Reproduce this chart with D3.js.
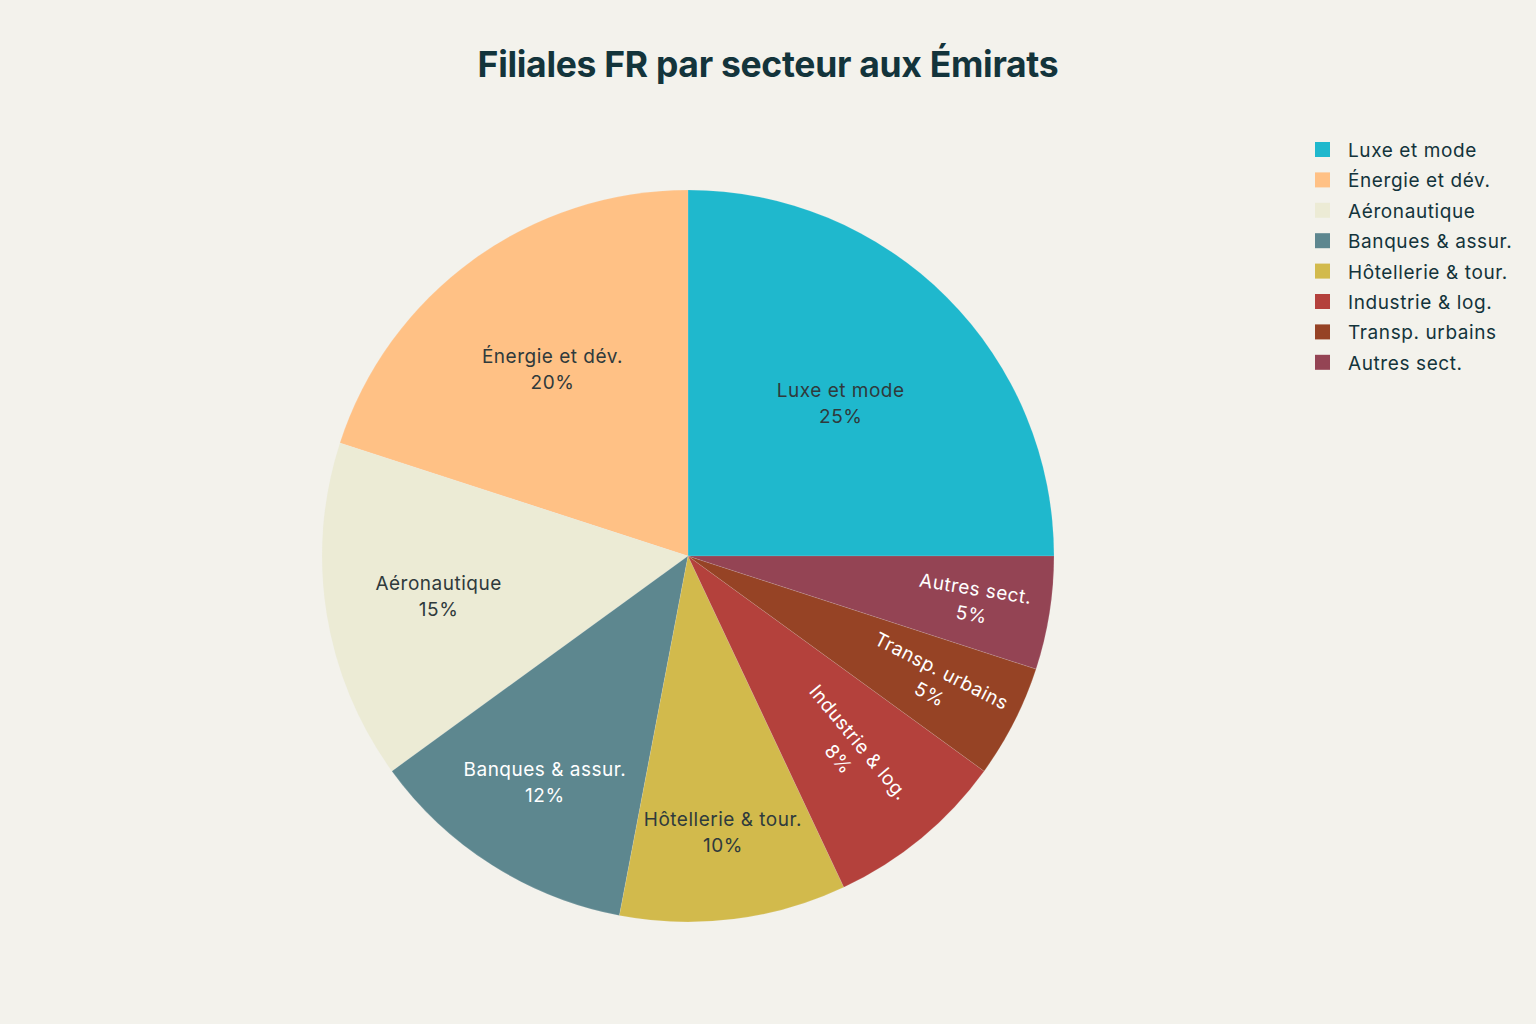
<!DOCTYPE html>
<html><head><meta charset="utf-8">
<script src="https://cdn.jsdelivr.net/npm/d3@7/dist/d3.min.js"></script>
<style>
html,body{margin:0;padding:0;background:#F3F2EC;}
svg{display:block;}
</style></head>
<body>
<svg id="chart" width="1536" height="1024"></svg>
<script>
const categories = ["Luxe et mode","Énergie et dév.","Aéronautique","Banques & assur.","Hôtellerie & tour.","Industrie & log.","Transp. urbains","Autres sect."];
const values = [25,20,15,12,10,8,5,5];
const colors = ["#1FB8CD","#FFC185","#ECEBD5","#5D878F","#D2BA4C","#B4413C","#964325","#944454"];
const textColors = ["#2f3a3c","#2f3a3c","#2f3a3c","#ffffff","#2f3a3c","#ffffff","#ffffff","#ffffff"];
const title = "Filiales FR par secteur aux Émirats";

// layout settings (not data)
const labelRadiusFrac = [0.59,0.63,0.69,0.73,0.76,0.69,0.76,0.79];
const radialLabel = [false,false,false,false,false,true,true,true];

const svg = d3.select("#chart");
const W = 1536, H = 1024;
const cx = 688, cy = 556, R = 366;
const font = "Inter, 'Open Sans', 'DejaVu Sans', sans-serif";

svg.append("rect").attr("width",W).attr("height",H).attr("fill","#F3F2EC");

svg.append("text").attr("x",768).attr("y",77).attr("text-anchor","middle")
  .attr("font-family",font).attr("font-weight",700).attr("font-size",35.5)
  .attr("letter-spacing","-0.3").attr("fill","#13343B").text(title);

const data = categories.map((c,i)=>({cat:c,val:values[i],i}));
const pie = d3.pie().sort(null).value(d=>d.val)
  .startAngle(Math.PI/2).endAngle(Math.PI/2 - 2*Math.PI);
const arcs = pie(data);
const arc = d3.arc().innerRadius(0).outerRadius(R);

const g = svg.append("g").attr("transform",`translate(${cx},${cy})`);
g.selectAll("path.slice").data(arcs).join("path").attr("class","slice")
  .attr("d",arc).attr("fill",d=>colors[d.data.i])
  .attr("stroke","#F3F2EC").attr("stroke-width",0.5).attr("stroke-opacity",0.25);

const total = d3.sum(values);
const lab = g.selectAll("g.lab").data(arcs).join("g").attr("class","lab")
  .attr("transform",d=>{
    const mid = (d.startAngle+d.endAngle)/2;
    const r = R*labelRadiusFrac[d.data.i];
    const x = r*Math.sin(mid), y = -r*Math.cos(mid);
    let rot = 0;
    if (radialLabel[d.data.i]) {
      let deg = mid*180/Math.PI; deg = ((deg%360)+360)%360;
      rot = deg - 90;
      if (rot > 90) rot -= 180;
      if (rot < -90) rot += 180;
    }
    return `translate(${x},${y}) rotate(${rot})`;
  });
lab.append("text").attr("text-anchor","middle").attr("y",-6)
  .attr("font-family",font).attr("font-size",19).attr("letter-spacing","0.5").attr("fill",d=>textColors[d.data.i])
  .text(d=>d.data.cat);
lab.append("text").attr("text-anchor","middle").attr("y",20)
  .attr("font-family",font).attr("font-size",19).attr("letter-spacing","0.5").attr("fill",d=>textColors[d.data.i])
  .text(d=>Math.round(d.data.val/total*100)+"%");

const legend = svg.append("g").attr("transform","translate(1315,150)");
const li = legend.selectAll("g").data(data).join("g")
  .attr("transform",(d,i)=>`translate(0,${i*30.4})`);
li.append("rect").attr("x",0).attr("y",-8).attr("width",15).attr("height",15).attr("fill",d=>colors[d.i]);
li.append("text").attr("x",33).attr("y",7).attr("font-family",font).attr("font-size",19)
  .attr("letter-spacing","0.6").attr("fill","#13343B").text(d=>d.cat);
</script>
</body></html>
